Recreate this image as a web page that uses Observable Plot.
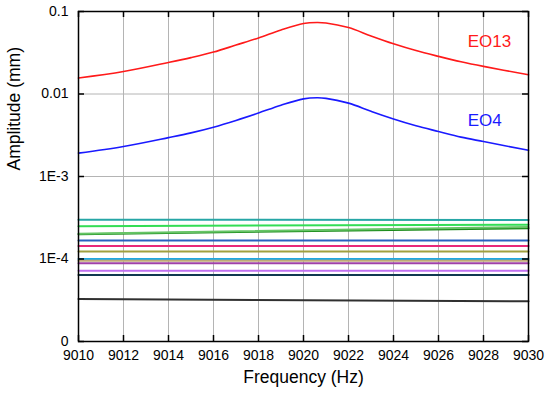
<!DOCTYPE html>
<html><head><meta charset="utf-8">
<script src="https://cdn.jsdelivr.net/npm/d3@7"></script>
<script src="https://cdn.jsdelivr.net/npm/@observablehq/plot@0.6"></script>
<style>body{margin:0;background:#fff}</style>
</head><body><div id="chart"></div>
<script>
// Resonance curves
const freq = [9010, 9012, 9014, 9015, 9016, 9017, 9018, 9019, 9020, 9020.6, 9021, 9022, 9023, 9024, 9025, 9026, 9027, 9028, 9030];
const eo13 = [0.0156, 0.0187, 0.0241, 0.0276, 0.0322, 0.0392, 0.0478, 0.0598, 0.0716, 0.0736, 0.0726, 0.0638, 0.0505, 0.0406, 0.0336, 0.0286, 0.0246, 0.0216, 0.0171];
const eo4  = [0.00192, 0.00231, 0.00296, 0.00338, 0.00396, 0.00478, 0.00588, 0.00731, 0.00872, 0.0090, 0.00886, 0.00775, 0.00618, 0.00498, 0.00412, 0.00351, 0.00300, 0.00265, 0.00208];

// Other (nearly flat) modes: amplitude at 9010 Hz and at 9030 Hz
const modeNames = ["m1","m2","m3","m4","m5","m6","m7","m8","m9","m10","m11","m12","m13"];
const modeStart = [3.0e-4, 2.5e-4, 2.0e-4, 2.03e-4, 1.68e-4, 1.44e-4, 1.23e-4, 1.0e-4, 0.95e-4, 0.89e-4, 7.2e-5, 6.4e-5, 3.27e-5];
const modeEnd   = [2.97e-4, 2.6e-4, 2.36e-4, 2.45e-4, 1.68e-4, 1.44e-4, 1.23e-4, 1.0e-4, 0.95e-4, 0.89e-4, 7.2e-5, 6.4e-5, 3.07e-5];
const palette   = ["#26a6a6","#33dd55","#1a8a1a","#66c466","#2860c0","#e8287a","#a0a040","#20a8e0","#c0a878","#a040a8","#c070f0","#103850","#303030"];

const labels = ["EO13", "EO4"];
const labelFreq = [9027.3, 9027.3];
const labelAmp = [0.0436, 0.00478];

const xTicks = [9010, 9012, 9014, 9016, 9018, 9020, 9022, 9024, 9026, 9028, 9030];
const yTicks = [1e-5, 1e-4, 1e-3, 1e-2, 1e-1];
const yTickLabels = ["0", "1E-4", "1E-3", "0.01", "0.1"];

const curves = [];
freq.forEach((f, i) => { curves.push({name: "EO13", f, a: eo13[i]}); curves.push({name: "EO4", f, a: eo4[i]}); });
curves.sort((a, b) => a.f - b.f);
const flat = modeNames.flatMap((n, i) => [
  {name: n, f: 9010, a: modeStart[i], c: palette[i]},
  {name: n, f: 9030, a: modeEnd[i], c: palette[i]}
]);
const textData = labels.map((t, i) => ({t, f: labelFreq[i], a: labelAmp[i]}));

const font = "'Liberation Sans', Arial, sans-serif";
const chart = Plot.plot({
  width: 550, height: 396,
  marginLeft: 78, marginRight: 22, marginTop: 11, marginBottom: 55,
  style: {fontFamily: font, fontSize: "14px", background: "#fff", color: "#000"},
  x: {domain: [9010, 9030], label: null},
  y: {type: "log", domain: [1e-5, 0.1], label: null},
  color: {type: "identity"},
  marks: [
    Plot.gridX(xTicks, {stroke: "#b4b4b4", strokeOpacity: 1}),
    Plot.gridY(yTicks, {stroke: "#b4b4b4", strokeOpacity: 1}),
    Plot.line(flat, {x: "f", y: "a", z: "name", stroke: "c", strokeWidth: 2}),
    Plot.line(curves, {x: "f", y: "a", z: "name", stroke: d => d.name === "EO13" ? "#ff1a1a" : "#1a1aff", strokeWidth: 1.6, curve: "catmull-rom"}),
    Plot.text(textData, {x: "f", y: "a", text: "t", textAnchor: "start", fontSize: 17, fill: d => d.t === "EO13" ? "#ff1a1a" : "#1a1aff"}),
    Plot.ruleX(xTicks, {x: d => d, insetTop: 324, stroke: "#000", strokeWidth: 1.5}),
    Plot.ruleX(xTicks, {x: d => d, insetBottom: 324, stroke: "#000", strokeWidth: 1.5}),
    Plot.ruleY(yTicks, {y: d => d, insetRight: 444, stroke: "#000", strokeWidth: 1.5}),
    Plot.ruleY(yTicks, {y: d => d, insetLeft: 444, stroke: "#000", strokeWidth: 1.5}),
    Plot.frame({stroke: "#000", strokeWidth: 1.5}),
    Plot.axisX(xTicks, {tickSize: 0, tickPadding: 9, fontSize: 14, label: null, tickFormat: d => String(d)}),
    Plot.axisY(yTicks, {tickSize: 0, tickPadding: 10, fontSize: 14, label: null, tickFormat: d => yTickLabels[yTicks.indexOf(d)]}),
    Plot.text(["Frequency (Hz)"], {frameAnchor: "bottom", dy: 41, fontSize: 17.5}),
    Plot.text(["Amplitude (mm)"], {frameAnchor: "left", dx: -64, dy: -6, rotate: -90, fontSize: 17.5})
  ]
});
document.getElementById("chart").appendChild(chart);
</script>
</body></html>
